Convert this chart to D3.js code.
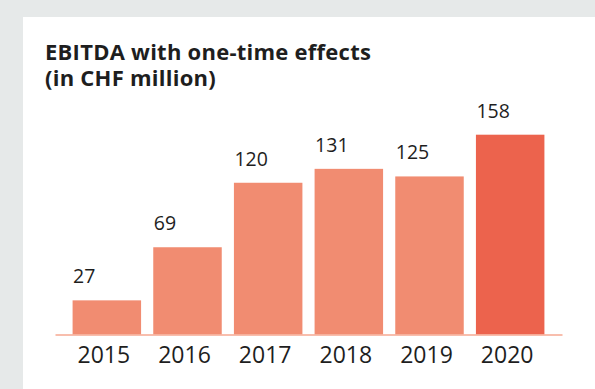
<!DOCTYPE html>
<html>
<head>
<meta charset="utf-8">
<script src="https://cdn.jsdelivr.net/npm/d3@7/dist/d3.min.js"></script>
<style>
  html, body { margin: 0; padding: 0; background: #e6e9e9; }
  svg { display: block; }
  text { font-family: "Open Sans", "Noto Sans", sans-serif; fill: #1e1e1e; }
</style>
</head>
<body>
<svg id="chart" width="595" height="389"></svg>
<script>
// EBITDA with one-time effects, CHF million
const years = ["2015", "2016", "2017", "2018", "2019", "2020"];
const ebitda = [27, 69, 120, 131, 125, 158];
const titleLines = ["EBITDA with one-time effects", "(in CHF million)"];

const W = 595, H = 389;
const svg = d3.select("#chart");

// white card on the grey page
svg.append("rect").attr("x", 23).attr("y", 17)
  .attr("width", W - 23).attr("height", H - 17).attr("fill", "#ffffff");

// title
const title = svg.append("text").attr("x", 45).attr("y", 60)
  .style("font-weight", 700).style("font-size", "22px")
  .style("letter-spacing", "0.25px");
titleLines.forEach((t, i) => {
  title.append("tspan").attr("x", 45).attr("dy", i === 0 ? 0 : 26).text(t);
});

const baseY = 334.5;
const x = d3.scaleBand().domain(years).range([55, 562])
  .paddingInner(0.151).paddingOuter(0.218);
const y = d3.scaleLinear().domain([0, d3.max(ebitda)]).range([baseY, 134.7]);

const data = years.map((yr, i) => ({ year: yr, value: ebitda[i] }));
const last = years[years.length - 1];

svg.append("g").selectAll("rect").data(data).join("rect")
  .attr("x", d => x(d.year))
  .attr("y", d => y(d.value))
  .attr("width", x.bandwidth())
  .attr("height", d => baseY - y(d.value))
  .attr("fill", d => d.year === last ? "#ec634d" : "#f18c71");

// value labels above the bars
svg.append("g").selectAll("text").data(data).join("text")
  .attr("x", d => x(d.year) + 0.5)
  .attr("y", d => y(d.value) - 17)
  .style("font-size", "19.5px")
  .text(d => d.value);

// category axis
const axis = svg.append("g").attr("transform", `translate(0,${baseY})`)
  .call(d3.axisBottom(x).tickSize(0).tickPadding(12));
axis.select(".domain").attr("stroke", "#f6a892").attr("stroke-width", 1.5);
axis.selectAll(".tick text")
  .attr("dx", -3)
  .style("font-family", "'Open Sans', 'Noto Sans', sans-serif")
  .style("font-size", "23px")
  .attr("fill", "#1e1e1e");
</script>
</body>
</html>
